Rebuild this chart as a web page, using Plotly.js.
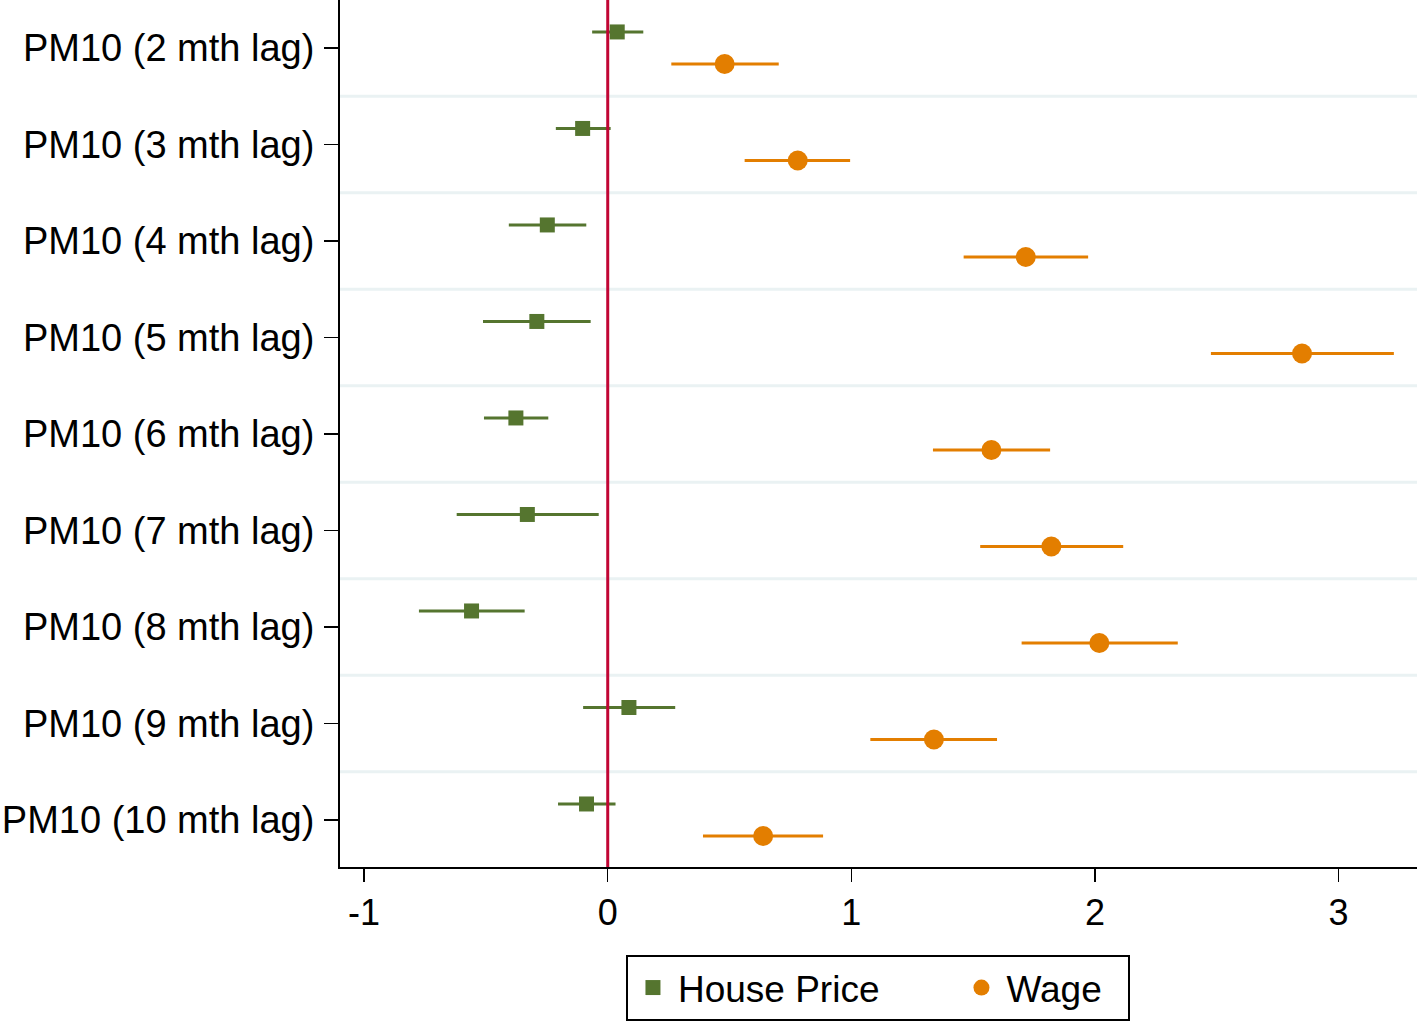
<!DOCTYPE html>
<html>
<head>
<meta charset="utf-8">
<script src="https://cdn.plot.ly/plotly-3.0.1.min.js"></script>
<style>
  html, body { margin: 0; padding: 0; background: #ffffff; }
  #chart { width: 1419px; height: 1028px; }
</style>
</head>
<body>
<div id="chart"></div>
<script>
// Category labels (top to bottom)
const categories = [
  "PM10 (2 mth lag)", "PM10 (3 mth lag)", "PM10 (4 mth lag)",
  "PM10 (5 mth lag)", "PM10 (6 mth lag)", "PM10 (7 mth lag)",
  "PM10 (8 mth lag)", "PM10 (9 mth lag)", "PM10 (10 mth lag)"
];

// Series names
const seriesNames = ["House Price", "Wage"];

// House Price estimates and confidence bounds
const housePrice   = [0.039, -0.103, -0.248, -0.291, -0.377, -0.330, -0.559, 0.087, -0.087];
const houseLower   = [-0.064, -0.213, -0.406, -0.512, -0.508, -0.620, -0.775, -0.101, -0.204];
const houseUpper   = [0.146, 0.012, -0.088, -0.070, -0.244, -0.037, -0.341, 0.277, 0.032];

// Wage estimates and confidence bounds
const wage         = [0.480, 0.780, 1.716, 2.850, 1.575, 1.821, 2.018, 1.339, 0.638];
const wageLower    = [0.261, 0.562, 1.461, 2.476, 1.335, 1.529, 1.699, 1.078, 0.391];
const wageUpper    = [0.702, 0.995, 1.972, 3.227, 1.816, 2.116, 2.340, 1.598, 0.884];

// X-axis ticks
const xTickVals = [-1, 0, 1, 2, 3];
const xTickText = ["-1", "0", "1", "2", "3"];

const FONT = '"Liberation Sans", Arial, Helvetica, sans-serif';
const GREEN = '#55752f';
const ORANGE = '#e37e00';
const OFFSET = 0.166;
const NB = '\u00a0';

const idx = categories.map((_, i) => i);

const traces = [
  {
    name: seriesNames[0] + NB.repeat(7),
    type: 'scatter',
    mode: 'markers',
    x: housePrice,
    y: idx.map(i => i - OFFSET),
    marker: { symbol: 'square', size: 15, color: GREEN },
    error_x: {
      type: 'data', symmetric: false,
      array: housePrice.map((v, i) => houseUpper[i] - v),
      arrayminus: housePrice.map((v, i) => v - houseLower[i]),
      color: GREEN, thickness: 3, width: 0
    },
    hoverinfo: 'x+name'
  },
  {
    name: seriesNames[1] + NB.repeat(2),
    type: 'scatter',
    mode: 'markers',
    x: wage,
    y: idx.map(i => i + OFFSET),
    marker: { symbol: 'circle', size: 20, color: ORANGE },
    error_x: {
      type: 'data', symmetric: false,
      array: wage.map((v, i) => wageUpper[i] - v),
      arrayminus: wage.map((v, i) => v - wageLower[i]),
      color: ORANGE, thickness: 3, width: 0
    },
    hoverinfo: 'x+name'
  }
];

const shapes = [];
for (let i = 0; i < categories.length - 1; i++) {
  shapes.push({
    type: 'line', xref: 'paper', x0: 0, x1: 1,
    yref: 'y', y0: i + 0.5, y1: i + 0.5,
    line: { color: '#eaf2f3', width: 3 }, layer: 'below'
  });
}
shapes.push({
  type: 'line', xref: 'x', x0: 0, x1: 0,
  yref: 'paper', y0: 0, y1: 1,
  line: { color: '#c10534', width: 3 }, layer: 'above'
});

const layout = {
  width: 1419,
  height: 1028,
  margin: { l: 340, r: 2, t: 0, b: 161, pad: 0 },
  paper_bgcolor: '#ffffff',
  plot_bgcolor: '#ffffff',
  font: { family: FONT, size: 36, color: '#000000' },
  showlegend: true,
  legend: {
    orientation: 'h',
    x: 0.4995, xanchor: 'center',
    y: -0.1015, yanchor: 'top',
    bordercolor: '#000000', borderwidth: 2,
    bgcolor: '#ffffff',
    itemwidth: 40,
    font: { family: FONT, size: 37, color: '#000000' },
    itemclick: false
  },
  xaxis: {
    range: [-1.099, 3.322],
    tickmode: 'array', tickvals: xTickVals, ticktext: xTickText,
    ticks: 'outside', ticklen: 13, tickwidth: 1.5, tickcolor: '#000000',
    showline: true, linecolor: '#000000', linewidth: 2,
    showgrid: false, zeroline: false,
    tickfont: { family: FONT, size: 36, color: '#000000' },
    fixedrange: true
  },
  yaxis: {
    range: [8.487, -0.497],
    tickmode: 'array', tickvals: idx, ticktext: categories,
    ticks: 'outside', ticklen: 14, tickwidth: 1.5, tickcolor: '#000000',
    ticklabelstandoff: 2,
    showline: true, linecolor: '#000000', linewidth: 2,
    showgrid: false, zeroline: false,
    tickfont: { family: FONT, size: 38, color: '#000000' },
    fixedrange: true
  },
  shapes: shapes
};

Plotly.newPlot('chart', traces, layout, { displayModeBar: false, staticPlot: true });
</script>
</body>
</html>
